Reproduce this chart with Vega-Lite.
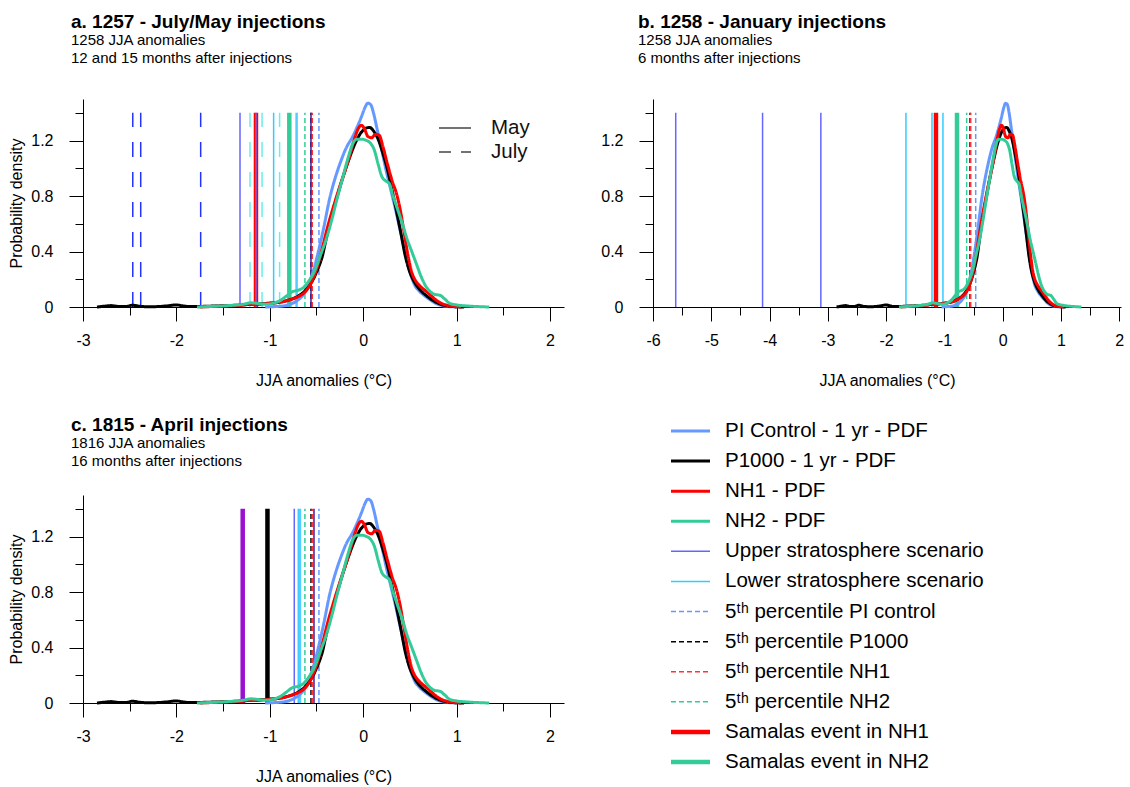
{
  "$schema": "https://vega.github.io/schema/vega-lite/v6.json",
  "background": "white",
  "padding": {"left": 8, "top": 13, "right": 5, "bottom": 5},
  "config": {
    "font": "Liberation Sans",
    "view": {"stroke": null},
    "axis": {"domainColor": "black", "tickColor": "black", "labelColor": "black", "titleColor": "black", "labelFontSize": 16, "titleFontSize": 16, "titleFontWeight": "normal", "grid": false, "labelFont": "Liberation Sans", "titleFont": "Liberation Sans"},
    "title": {"font": "Liberation Sans", "fontSize": 19, "fontWeight": "bold", "color": "black", "anchor": "start", "frame": "group", "subtitleFont": "Liberation Sans", "subtitleFontSize": 15, "subtitleColor": "black", "subtitleLineHeight": 18, "subtitlePadding": 1, "offset": 31}
  },
  "datasets": {
    "curves": [
      {"series": "PI Control - 1 yr - PDF", "t": -1.05, "d": 0}, {"series": "PI Control - 1 yr - PDF", "t": -0.95, "d": 0.003}, {"series": "PI Control - 1 yr - PDF", "t": -0.85, "d": 0.008}, {"series": "PI Control - 1 yr - PDF", "t": -0.78, "d": 0.02}, {"series": "PI Control - 1 yr - PDF", "t": -0.7, "d": 0.05}, {"series": "PI Control - 1 yr - PDF", "t": -0.64, "d": 0.09}, {"series": "PI Control - 1 yr - PDF", "t": -0.59, "d": 0.16}, {"series": "PI Control - 1 yr - PDF", "t": -0.53, "d": 0.27}, {"series": "PI Control - 1 yr - PDF", "t": -0.48, "d": 0.4}, {"series": "PI Control - 1 yr - PDF", "t": -0.42, "d": 0.58}, {"series": "PI Control - 1 yr - PDF", "t": -0.36, "d": 0.78}, {"series": "PI Control - 1 yr - PDF", "t": -0.3, "d": 0.93}, {"series": "PI Control - 1 yr - PDF", "t": -0.24, "d": 1.05}, {"series": "PI Control - 1 yr - PDF", "t": -0.18, "d": 1.15}, {"series": "PI Control - 1 yr - PDF", "t": -0.12, "d": 1.22}, {"series": "PI Control - 1 yr - PDF", "t": -0.07, "d": 1.29}, {"series": "PI Control - 1 yr - PDF", "t": -0.02, "d": 1.37}, {"series": "PI Control - 1 yr - PDF", "t": 0.02, "d": 1.44}, {"series": "PI Control - 1 yr - PDF", "t": 0.05, "d": 1.47}, {"series": "PI Control - 1 yr - PDF", "t": 0.08, "d": 1.46}, {"series": "PI Control - 1 yr - PDF", "t": 0.11, "d": 1.4}, {"series": "PI Control - 1 yr - PDF", "t": 0.15, "d": 1.28}, {"series": "PI Control - 1 yr - PDF", "t": 0.19, "d": 1.16}, {"series": "PI Control - 1 yr - PDF", "t": 0.24, "d": 1.0}, {"series": "PI Control - 1 yr - PDF", "t": 0.29, "d": 0.86}, {"series": "PI Control - 1 yr - PDF", "t": 0.34, "d": 0.72}, {"series": "PI Control - 1 yr - PDF", "t": 0.39, "d": 0.57}, {"series": "PI Control - 1 yr - PDF", "t": 0.43, "d": 0.45}, {"series": "PI Control - 1 yr - PDF", "t": 0.47, "d": 0.33}, {"series": "PI Control - 1 yr - PDF", "t": 0.51, "d": 0.23}, {"series": "PI Control - 1 yr - PDF", "t": 0.55, "d": 0.16}, {"series": "PI Control - 1 yr - PDF", "t": 0.6, "d": 0.115}, {"series": "PI Control - 1 yr - PDF", "t": 0.66, "d": 0.08}, {"series": "PI Control - 1 yr - PDF", "t": 0.72, "d": 0.05}, {"series": "PI Control - 1 yr - PDF", "t": 0.78, "d": 0.025}, {"series": "PI Control - 1 yr - PDF", "t": 0.85, "d": 0.01}, {"series": "PI Control - 1 yr - PDF", "t": 0.92, "d": 0.003}, {"series": "PI Control - 1 yr - PDF", "t": 1.0, "d": 0},
      {"series": "P1000 - 1 yr - PDF", "t": -2.85, "d": 0}, {"series": "P1000 - 1 yr - PDF", "t": -2.78, "d": 0.005}, {"series": "P1000 - 1 yr - PDF", "t": -2.7, "d": 0.01}, {"series": "P1000 - 1 yr - PDF", "t": -2.62, "d": 0.004}, {"series": "P1000 - 1 yr - PDF", "t": -2.54, "d": 0.004}, {"series": "P1000 - 1 yr - PDF", "t": -2.47, "d": 0.013}, {"series": "P1000 - 1 yr - PDF", "t": -2.4, "d": 0.006}, {"series": "P1000 - 1 yr - PDF", "t": -2.3, "d": 0.002}, {"series": "P1000 - 1 yr - PDF", "t": -2.2, "d": 0.003}, {"series": "P1000 - 1 yr - PDF", "t": -2.1, "d": 0.008}, {"series": "P1000 - 1 yr - PDF", "t": -2.0, "d": 0.015}, {"series": "P1000 - 1 yr - PDF", "t": -1.93, "d": 0.008}, {"series": "P1000 - 1 yr - PDF", "t": -1.85, "d": 0.003}, {"series": "P1000 - 1 yr - PDF", "t": -1.75, "d": 0.004}, {"series": "P1000 - 1 yr - PDF", "t": -1.6, "d": 0.007}, {"series": "P1000 - 1 yr - PDF", "t": -1.45, "d": 0.01}, {"series": "P1000 - 1 yr - PDF", "t": -1.3, "d": 0.015}, {"series": "P1000 - 1 yr - PDF", "t": -1.2, "d": 0.02}, {"series": "P1000 - 1 yr - PDF", "t": -1.1, "d": 0.024}, {"series": "P1000 - 1 yr - PDF", "t": -1.0, "d": 0.028}, {"series": "P1000 - 1 yr - PDF", "t": -0.9, "d": 0.034}, {"series": "P1000 - 1 yr - PDF", "t": -0.8, "d": 0.05}, {"series": "P1000 - 1 yr - PDF", "t": -0.72, "d": 0.07}, {"series": "P1000 - 1 yr - PDF", "t": -0.65, "d": 0.1}, {"series": "P1000 - 1 yr - PDF", "t": -0.58, "d": 0.15}, {"series": "P1000 - 1 yr - PDF", "t": -0.52, "d": 0.22}, {"series": "P1000 - 1 yr - PDF", "t": -0.47, "d": 0.3}, {"series": "P1000 - 1 yr - PDF", "t": -0.44, "d": 0.36}, {"series": "P1000 - 1 yr - PDF", "t": -0.4, "d": 0.48}, {"series": "P1000 - 1 yr - PDF", "t": -0.35, "d": 0.63}, {"series": "P1000 - 1 yr - PDF", "t": -0.29, "d": 0.77}, {"series": "P1000 - 1 yr - PDF", "t": -0.22, "d": 0.93}, {"series": "P1000 - 1 yr - PDF", "t": -0.15, "d": 1.07}, {"series": "P1000 - 1 yr - PDF", "t": -0.08, "d": 1.19}, {"series": "P1000 - 1 yr - PDF", "t": -0.02, "d": 1.26}, {"series": "P1000 - 1 yr - PDF", "t": 0.03, "d": 1.29}, {"series": "P1000 - 1 yr - PDF", "t": 0.07, "d": 1.295}, {"series": "P1000 - 1 yr - PDF", "t": 0.11, "d": 1.27}, {"series": "P1000 - 1 yr - PDF", "t": 0.16, "d": 1.21}, {"series": "P1000 - 1 yr - PDF", "t": 0.21, "d": 1.11}, {"series": "P1000 - 1 yr - PDF", "t": 0.26, "d": 0.99}, {"series": "P1000 - 1 yr - PDF", "t": 0.31, "d": 0.84}, {"series": "P1000 - 1 yr - PDF", "t": 0.36, "d": 0.68}, {"series": "P1000 - 1 yr - PDF", "t": 0.41, "d": 0.51}, {"series": "P1000 - 1 yr - PDF", "t": 0.45, "d": 0.37}, {"series": "P1000 - 1 yr - PDF", "t": 0.49, "d": 0.27}, {"series": "P1000 - 1 yr - PDF", "t": 0.54, "d": 0.19}, {"series": "P1000 - 1 yr - PDF", "t": 0.6, "d": 0.13}, {"series": "P1000 - 1 yr - PDF", "t": 0.67, "d": 0.085}, {"series": "P1000 - 1 yr - PDF", "t": 0.74, "d": 0.05}, {"series": "P1000 - 1 yr - PDF", "t": 0.82, "d": 0.022}, {"series": "P1000 - 1 yr - PDF", "t": 0.9, "d": 0.008}, {"series": "P1000 - 1 yr - PDF", "t": 1.0, "d": 0.002}, {"series": "P1000 - 1 yr - PDF", "t": 1.08, "d": 0},
      {"series": "NH1 - PDF", "t": -1.75, "d": 0}, {"series": "NH1 - PDF", "t": -1.6, "d": 0.004}, {"series": "NH1 - PDF", "t": -1.45, "d": 0.008}, {"series": "NH1 - PDF", "t": -1.3, "d": 0.012}, {"series": "NH1 - PDF", "t": -1.22, "d": 0.02}, {"series": "NH1 - PDF", "t": -1.15, "d": 0.018}, {"series": "NH1 - PDF", "t": -1.05, "d": 0.024}, {"series": "NH1 - PDF", "t": -0.95, "d": 0.03}, {"series": "NH1 - PDF", "t": -0.85, "d": 0.04}, {"series": "NH1 - PDF", "t": -0.75, "d": 0.06}, {"series": "NH1 - PDF", "t": -0.68, "d": 0.08}, {"series": "NH1 - PDF", "t": -0.62, "d": 0.11}, {"series": "NH1 - PDF", "t": -0.56, "d": 0.17}, {"series": "NH1 - PDF", "t": -0.5, "d": 0.27}, {"series": "NH1 - PDF", "t": -0.44, "d": 0.42}, {"series": "NH1 - PDF", "t": -0.38, "d": 0.58}, {"series": "NH1 - PDF", "t": -0.32, "d": 0.72}, {"series": "NH1 - PDF", "t": -0.26, "d": 0.85}, {"series": "NH1 - PDF", "t": -0.2, "d": 0.97}, {"series": "NH1 - PDF", "t": -0.14, "d": 1.1}, {"series": "NH1 - PDF", "t": -0.09, "d": 1.22}, {"series": "NH1 - PDF", "t": -0.05, "d": 1.29}, {"series": "NH1 - PDF", "t": -0.02, "d": 1.31}, {"series": "NH1 - PDF", "t": 0.01, "d": 1.29}, {"series": "NH1 - PDF", "t": 0.05, "d": 1.23}, {"series": "NH1 - PDF", "t": 0.09, "d": 1.22}, {"series": "NH1 - PDF", "t": 0.13, "d": 1.245}, {"series": "NH1 - PDF", "t": 0.17, "d": 1.24}, {"series": "NH1 - PDF", "t": 0.21, "d": 1.16}, {"series": "NH1 - PDF", "t": 0.26, "d": 1.03}, {"series": "NH1 - PDF", "t": 0.31, "d": 0.91}, {"series": "NH1 - PDF", "t": 0.36, "d": 0.81}, {"series": "NH1 - PDF", "t": 0.4, "d": 0.69}, {"series": "NH1 - PDF", "t": 0.44, "d": 0.53}, {"series": "NH1 - PDF", "t": 0.48, "d": 0.37}, {"series": "NH1 - PDF", "t": 0.52, "d": 0.25}, {"series": "NH1 - PDF", "t": 0.56, "d": 0.19}, {"series": "NH1 - PDF", "t": 0.61, "d": 0.15}, {"series": "NH1 - PDF", "t": 0.67, "d": 0.115}, {"series": "NH1 - PDF", "t": 0.73, "d": 0.08}, {"series": "NH1 - PDF", "t": 0.79, "d": 0.045}, {"series": "NH1 - PDF", "t": 0.85, "d": 0.022}, {"series": "NH1 - PDF", "t": 0.93, "d": 0.008}, {"series": "NH1 - PDF", "t": 1.05, "d": 0},
      {"series": "NH2 - PDF", "t": -1.78, "d": 0}, {"series": "NH2 - PDF", "t": -1.6, "d": 0.005}, {"series": "NH2 - PDF", "t": -1.45, "d": 0.01}, {"series": "NH2 - PDF", "t": -1.3, "d": 0.018}, {"series": "NH2 - PDF", "t": -1.2, "d": 0.03}, {"series": "NH2 - PDF", "t": -1.12, "d": 0.025}, {"series": "NH2 - PDF", "t": -1.02, "d": 0.02}, {"series": "NH2 - PDF", "t": -0.95, "d": 0.03}, {"series": "NH2 - PDF", "t": -0.88, "d": 0.05}, {"series": "NH2 - PDF", "t": -0.82, "d": 0.08}, {"series": "NH2 - PDF", "t": -0.76, "d": 0.11}, {"series": "NH2 - PDF", "t": -0.7, "d": 0.12}, {"series": "NH2 - PDF", "t": -0.64, "d": 0.14}, {"series": "NH2 - PDF", "t": -0.58, "d": 0.19}, {"series": "NH2 - PDF", "t": -0.52, "d": 0.26}, {"series": "NH2 - PDF", "t": -0.46, "d": 0.37}, {"series": "NH2 - PDF", "t": -0.4, "d": 0.48}, {"series": "NH2 - PDF", "t": -0.34, "d": 0.62}, {"series": "NH2 - PDF", "t": -0.28, "d": 0.78}, {"series": "NH2 - PDF", "t": -0.22, "d": 0.93}, {"series": "NH2 - PDF", "t": -0.16, "d": 1.08}, {"series": "NH2 - PDF", "t": -0.11, "d": 1.18}, {"series": "NH2 - PDF", "t": -0.07, "d": 1.21}, {"series": "NH2 - PDF", "t": -0.02, "d": 1.21}, {"series": "NH2 - PDF", "t": 0.04, "d": 1.2}, {"series": "NH2 - PDF", "t": 0.08, "d": 1.18}, {"series": "NH2 - PDF", "t": 0.12, "d": 1.13}, {"series": "NH2 - PDF", "t": 0.16, "d": 1.03}, {"series": "NH2 - PDF", "t": 0.2, "d": 0.94}, {"series": "NH2 - PDF", "t": 0.24, "d": 0.91}, {"series": "NH2 - PDF", "t": 0.28, "d": 0.89}, {"series": "NH2 - PDF", "t": 0.32, "d": 0.8}, {"series": "NH2 - PDF", "t": 0.37, "d": 0.7}, {"series": "NH2 - PDF", "t": 0.42, "d": 0.6}, {"series": "NH2 - PDF", "t": 0.47, "d": 0.49}, {"series": "NH2 - PDF", "t": 0.52, "d": 0.4}, {"series": "NH2 - PDF", "t": 0.57, "d": 0.31}, {"series": "NH2 - PDF", "t": 0.62, "d": 0.22}, {"series": "NH2 - PDF", "t": 0.67, "d": 0.15}, {"series": "NH2 - PDF", "t": 0.72, "d": 0.11}, {"series": "NH2 - PDF", "t": 0.77, "d": 0.09}, {"series": "NH2 - PDF", "t": 0.82, "d": 0.085}, {"series": "NH2 - PDF", "t": 0.87, "d": 0.06}, {"series": "NH2 - PDF", "t": 0.93, "d": 0.025}, {"series": "NH2 - PDF", "t": 1.0, "d": 0.015}, {"series": "NH2 - PDF", "t": 1.1, "d": 0.008}, {"series": "NH2 - PDF", "t": 1.2, "d": 0.004}, {"series": "NH2 - PDF", "t": 1.35, "d": 0}
    ],
    "vlines": [
      {"panel": "a", "series": "Samalas event in NH1", "x": -1.148},
      {"panel": "a", "series": "Samalas event in NH2", "x": -0.791},
      {"panel": "a", "series": "Upper stratosphere scenario, July", "x": -2.467},
      {"panel": "a", "series": "Upper stratosphere scenario, July", "x": -2.382},
      {"panel": "a", "series": "Upper stratosphere scenario, July", "x": -1.74},
      {"panel": "a", "series": "Upper stratosphere scenario", "x": -1.319},
      {"panel": "a", "series": "Upper stratosphere scenario", "x": -1.148},
      {"panel": "a", "series": "Lower stratosphere scenario, July", "x": -1.212},
      {"panel": "a", "series": "Lower stratosphere scenario, July", "x": -1.083},
      {"panel": "a", "series": "Lower stratosphere scenario, July", "x": -0.895},
      {"panel": "a", "series": "Lower stratosphere scenario", "x": -0.959},
      {"panel": "a", "series": "Lower stratosphere scenario, alt", "x": -0.713},
      {"panel": "a", "series": "5ᵗʰ percentile NH2", "x": -0.624},
      {"panel": "a", "series": "5ᵗʰ percentile P1000", "x": -0.559},
      {"panel": "a", "series": "Upper stratosphere scenario, alt", "x": -0.559},
      {"panel": "a", "series": "5ᵗʰ percentile NH1", "x": -0.545},
      {"panel": "a", "series": "5ᵗʰ percentile PI control", "x": -0.474},
      {"panel": "b", "series": "Samalas event in NH1", "x": -1.145},
      {"panel": "b", "series": "Samalas event in NH2", "x": -0.784},
      {"panel": "b", "series": "Upper stratosphere scenario", "x": -5.61},
      {"panel": "b", "series": "Upper stratosphere scenario", "x": -4.12},
      {"panel": "b", "series": "Upper stratosphere scenario", "x": -3.12},
      {"panel": "b", "series": "Lower stratosphere scenario", "x": -1.66},
      {"panel": "b", "series": "Lower stratosphere scenario", "x": -1.213},
      {"panel": "b", "series": "Lower stratosphere scenario", "x": -1.025},
      {"panel": "b", "series": "5ᵗʰ percentile NH2", "x": -0.618},
      {"panel": "b", "series": "5ᵗʰ percentile P1000", "x": -0.56},
      {"panel": "b", "series": "5ᵗʰ percentile NH1", "x": -0.549},
      {"panel": "b", "series": "5ᵗʰ percentile PI control", "x": -0.463},
      {"panel": "c", "series": "1815 event 1", "x": -1.29},
      {"panel": "c", "series": "1815 event 2", "x": -1.025},
      {"panel": "c", "series": "Upper stratosphere scenario", "x": -0.738},
      {"panel": "c", "series": "Lower stratosphere scenario", "x": -0.695},
      {"panel": "c", "series": "Lower stratosphere scenario, alt", "x": -0.677},
      {"panel": "c", "series": "5ᵗʰ percentile NH2", "x": -0.624},
      {"panel": "c", "series": "5ᵗʰ percentile P1000", "x": -0.559},
      {"panel": "c", "series": "5ᵗʰ percentile NH1", "x": -0.545},
      {"panel": "c", "series": "Upper stratosphere scenario, alt", "x": -0.527},
      {"panel": "c", "series": "5ᵗʰ percentile PI control", "x": -0.474}
    ],
    "months": [{"month": "May"}, {"month": "July"}],
    "legenditems": [
      {"series": "PI Control - 1 yr - PDF"}, {"series": "P1000 - 1 yr - PDF"}, {"series": "NH1 - PDF"}, {"series": "NH2 - PDF"}, {"series": "Upper stratosphere scenario"}, {"series": "Lower stratosphere scenario"}, {"series": "5ᵗʰ percentile PI control"}, {"series": "5ᵗʰ percentile P1000"}, {"series": "5ᵗʰ percentile NH1"}, {"series": "5ᵗʰ percentile NH2"}, {"series": "Samalas event in NH1"}, {"series": "Samalas event in NH2"}
    ]
  },
  "columns": 2,
  "bounds": "flush",
  "spacing": {"row": 188, "column": 89},
  "concat": [
    {
      "width": 481, "height": 208,
      "title": {"text": "a. 1257 - July/May injections", "subtitle": ["1258 JJA anomalies", "12 and 15 months after injections"], "dx": -12},
      "resolve": {"scale": {"x": "independent", "y": "independent"}, "axis": {"x": "independent", "y": "independent"}},
      "layer": [
        {
          "data": {"name": "vlines"},
          "transform": [{"filter": "datum.panel == 'a'"}],
          "mark": {"type": "rule"},
          "encoding": {
            "x": {"field": "x", "type": "quantitative", "scale": {"domain": [-3, 2.15], "nice": false, "zero": false}, "axis": {"orient": "bottom", "values": [-2.5, -1.5, -0.5, 0.5, 1.5], "labels": false, "domain": false, "tickSize": 8, "title": null}},
            "y": {"datum": 0, "type": "quantitative", "scale": {"domain": [0, 1.5], "nice": false, "zero": false}, "axis": {"orient": "left", "values": [0.2, 0.6, 1.0, 1.4], "labels": false, "domain": false, "tickSize": 8, "title": null}},
            "y2": {"datum": 1.4},
            "color": {"field": "series", "type": "nominal", "legend": null, "scale": {"domain": ["PI Control - 1 yr - PDF", "P1000 - 1 yr - PDF", "NH1 - PDF", "NH2 - PDF", "Upper stratosphere scenario", "Lower stratosphere scenario", "5ᵗʰ percentile PI control", "5ᵗʰ percentile P1000", "5ᵗʰ percentile NH1", "5ᵗʰ percentile NH2", "Samalas event in NH1", "Samalas event in NH2", "Upper stratosphere scenario, July", "Lower stratosphere scenario, July", "Lower stratosphere scenario, alt", "Upper stratosphere scenario, alt", "1815 event 1", "1815 event 2"], "range": ["#6699FF", "#000000", "#FF0000", "#33CC99", "#6666FF", "#33CCFF", "#6699FF", "#000000", "#FF3333", "#33CC99", "#FF0000", "#33CC99", "#2233FF", "#66EEEE", "#55CCFF", "#3A1F9E", "#9B10CF", "#000000"]}},
            "strokeDash": {"field": "series", "type": "nominal", "legend": null, "scale": {"domain": ["PI Control - 1 yr - PDF", "P1000 - 1 yr - PDF", "NH1 - PDF", "NH2 - PDF", "Upper stratosphere scenario", "Lower stratosphere scenario", "5ᵗʰ percentile PI control", "5ᵗʰ percentile P1000", "5ᵗʰ percentile NH1", "5ᵗʰ percentile NH2", "Samalas event in NH1", "Samalas event in NH2", "Upper stratosphere scenario, July", "Lower stratosphere scenario, July", "Lower stratosphere scenario, alt", "Upper stratosphere scenario, alt", "1815 event 1", "1815 event 2"], "range": [[1, 0], [1, 0], [1, 0], [1, 0], [1, 0], [1, 0], [5, 3], [5, 3], [5, 3], [5, 3], [1, 0], [1, 0], [15, 15], [15, 15], [1, 0], [1, 0], [1, 0], [1, 0]]}},
            "strokeWidth": {"field": "series", "type": "nominal", "legend": null, "scale": {"type": "ordinal", "domain": ["PI Control - 1 yr - PDF", "P1000 - 1 yr - PDF", "NH1 - PDF", "NH2 - PDF", "Upper stratosphere scenario", "Lower stratosphere scenario", "5ᵗʰ percentile PI control", "5ᵗʰ percentile P1000", "5ᵗʰ percentile NH1", "5ᵗʰ percentile NH2", "Samalas event in NH1", "Samalas event in NH2", "Upper stratosphere scenario, July", "Lower stratosphere scenario, July", "Lower stratosphere scenario, alt", "Upper stratosphere scenario, alt", "1815 event 1", "1815 event 2"], "range": [3, 3, 3, 3, 1.5, 1.5, 1.5, 1.5, 1.5, 1.5, 4.5, 4.5, 1.5, 1.5, 2.5, 1.5, 4.5, 4.5]}}
          }
        },
        {
          "data": {"name": "curves"},
          "mark": {"type": "line", "interpolate": "monotone"},
          "encoding": {
            "x": {"field": "t", "type": "quantitative", "scale": {"domain": [-3, 2.15], "nice": false, "zero": false}, "axis": {"orient": "bottom", "values": [-3, -2, -1, 0, 1, 2], "labelExpr": "'' + datum.value", "tickSize": 14, "labelPadding": 11, "title": "JJA anomalies (°C)", "titlePadding": 24, "labelFlush": false}},
            "y": {"field": "d", "type": "quantitative", "scale": {"domain": [0, 1.5], "nice": false, "zero": false}, "axis": {"orient": "left", "values": [0, 0.4, 0.8, 1.2], "labelExpr": "'' + datum.value", "tickSize": 14, "labelPadding": 16, "title": "Probability density", "titlePadding": 6}},
            "color": {"field": "series", "type": "nominal", "legend": null, "scale": {"domain": ["PI Control - 1 yr - PDF", "P1000 - 1 yr - PDF", "NH1 - PDF", "NH2 - PDF", "Upper stratosphere scenario", "Lower stratosphere scenario", "5ᵗʰ percentile PI control", "5ᵗʰ percentile P1000", "5ᵗʰ percentile NH1", "5ᵗʰ percentile NH2", "Samalas event in NH1", "Samalas event in NH2", "Upper stratosphere scenario, July", "Lower stratosphere scenario, July", "Lower stratosphere scenario, alt", "Upper stratosphere scenario, alt", "1815 event 1", "1815 event 2"], "range": ["#6699FF", "#000000", "#FF0000", "#33CC99", "#6666FF", "#33CCFF", "#6699FF", "#000000", "#FF3333", "#33CC99", "#FF0000", "#33CC99", "#2233FF", "#66EEEE", "#55CCFF", "#3A1F9E", "#9B10CF", "#000000"]}},
            "strokeDash": {"field": "series", "type": "nominal", "legend": null, "scale": {"domain": ["PI Control - 1 yr - PDF", "P1000 - 1 yr - PDF", "NH1 - PDF", "NH2 - PDF", "Upper stratosphere scenario", "Lower stratosphere scenario", "5ᵗʰ percentile PI control", "5ᵗʰ percentile P1000", "5ᵗʰ percentile NH1", "5ᵗʰ percentile NH2", "Samalas event in NH1", "Samalas event in NH2", "Upper stratosphere scenario, July", "Lower stratosphere scenario, July", "Lower stratosphere scenario, alt", "Upper stratosphere scenario, alt", "1815 event 1", "1815 event 2"], "range": [[1, 0], [1, 0], [1, 0], [1, 0], [1, 0], [1, 0], [5, 3], [5, 3], [5, 3], [5, 3], [1, 0], [1, 0], [15, 15], [15, 15], [1, 0], [1, 0], [1, 0], [1, 0]]}},
            "strokeWidth": {"field": "series", "type": "nominal", "legend": null, "scale": {"type": "ordinal", "domain": ["PI Control - 1 yr - PDF", "P1000 - 1 yr - PDF", "NH1 - PDF", "NH2 - PDF", "Upper stratosphere scenario", "Lower stratosphere scenario", "5ᵗʰ percentile PI control", "5ᵗʰ percentile P1000", "5ᵗʰ percentile NH1", "5ᵗʰ percentile NH2", "Samalas event in NH1", "Samalas event in NH2", "Upper stratosphere scenario, July", "Lower stratosphere scenario, July", "Lower stratosphere scenario, alt", "Upper stratosphere scenario, alt", "1815 event 1", "1815 event 2"], "range": [3, 3, 3, 3, 1.5, 1.5, 1.5, 1.5, 1.5, 1.5, 4.5, 4.5, 1.5, 1.5, 2.5, 1.5, 4.5, 4.5]}}
          }
        },
        {
          "data": {"name": "months"},
          "transform": [{"filter": "datum.month == 'May'"}],
          "mark": {"type": "rule", "color": "#444444", "strokeWidth": 1.5},
          "encoding": {
            "x": {"datum": 0, "type": "quantitative", "scale": {"domain": [0, 1], "range": [356, 388]}, "axis": null},
            "x2": {"datum": 1},
            "y": {"field": "month", "type": "nominal", "scale": {"type": "point", "domain": ["May", "July"], "range": [29, 53], "padding": 0}, "axis": null}
          }
        },
        {
          "data": {"name": "months"},
          "transform": [{"filter": "datum.month == 'July'"}],
          "mark": {"type": "rule", "color": "#444444", "strokeWidth": 1.5, "strokeDash": [12, 10]},
          "encoding": {
            "x": {"datum": 0, "type": "quantitative", "scale": {"domain": [0, 1], "range": [356, 388]}, "axis": null},
            "x2": {"datum": 1},
            "y": {"field": "month", "type": "nominal", "scale": {"type": "point", "domain": ["May", "July"], "range": [29, 53], "padding": 0}, "axis": null}
          }
        },
        {
          "data": {"name": "months"},
          "mark": {"type": "text", "align": "left", "baseline": "middle", "dx": 20, "fontSize": 20.5, "color": "#111111", "font": "Liberation Sans"},
          "encoding": {
            "x": {"datum": 1, "type": "quantitative", "scale": {"domain": [0, 1], "range": [356, 388]}, "axis": null},
            "y": {"field": "month", "type": "nominal", "scale": {"type": "point", "domain": ["May", "July"], "range": [29, 53], "padding": 0}, "axis": null},
            "text": {"field": "month"}
          }
        }
      ]
    },
    {
      "width": 468, "height": 208,
      "title": {"text": "b. 1258 - January injections", "subtitle": ["1258 JJA anomalies", "6 months after injections"], "dx": -15},
      "resolve": {"scale": {"x": "independent", "y": "independent"}, "axis": {"x": "independent", "y": "independent"}},
      "layer": [
        {
          "data": {"name": "vlines"},
          "transform": [{"filter": "datum.panel == 'b'"}],
          "mark": {"type": "rule"},
          "encoding": {
            "x": {"field": "x", "type": "quantitative", "scale": {"domain": [-6, 2.03], "nice": false, "zero": false}, "axis": {"orient": "bottom", "values": [-5.5, -4.5, -3.5, -2.5, -1.5, -0.5, 0.5, 1.5], "labels": false, "domain": false, "tickSize": 8, "title": null}},
            "y": {"datum": 0, "type": "quantitative", "scale": {"domain": [0, 1.5], "nice": false, "zero": false}, "axis": {"orient": "left", "values": [0.2, 0.6, 1.0, 1.4], "labels": false, "domain": false, "tickSize": 8, "title": null}},
            "y2": {"datum": 1.4},
            "color": {"field": "series", "type": "nominal", "legend": null, "scale": {"domain": ["PI Control - 1 yr - PDF", "P1000 - 1 yr - PDF", "NH1 - PDF", "NH2 - PDF", "Upper stratosphere scenario", "Lower stratosphere scenario", "5ᵗʰ percentile PI control", "5ᵗʰ percentile P1000", "5ᵗʰ percentile NH1", "5ᵗʰ percentile NH2", "Samalas event in NH1", "Samalas event in NH2", "Upper stratosphere scenario, July", "Lower stratosphere scenario, July", "Lower stratosphere scenario, alt", "Upper stratosphere scenario, alt", "1815 event 1", "1815 event 2"], "range": ["#6699FF", "#000000", "#FF0000", "#33CC99", "#6666FF", "#33CCFF", "#6699FF", "#000000", "#FF3333", "#33CC99", "#FF0000", "#33CC99", "#2233FF", "#66EEEE", "#55CCFF", "#3A1F9E", "#9B10CF", "#000000"]}},
            "strokeDash": {"field": "series", "type": "nominal", "legend": null, "scale": {"domain": ["PI Control - 1 yr - PDF", "P1000 - 1 yr - PDF", "NH1 - PDF", "NH2 - PDF", "Upper stratosphere scenario", "Lower stratosphere scenario", "5ᵗʰ percentile PI control", "5ᵗʰ percentile P1000", "5ᵗʰ percentile NH1", "5ᵗʰ percentile NH2", "Samalas event in NH1", "Samalas event in NH2", "Upper stratosphere scenario, July", "Lower stratosphere scenario, July", "Lower stratosphere scenario, alt", "Upper stratosphere scenario, alt", "1815 event 1", "1815 event 2"], "range": [[1, 0], [1, 0], [1, 0], [1, 0], [1, 0], [1, 0], [5, 3], [5, 3], [5, 3], [5, 3], [1, 0], [1, 0], [15, 15], [15, 15], [1, 0], [1, 0], [1, 0], [1, 0]]}},
            "strokeWidth": {"field": "series", "type": "nominal", "legend": null, "scale": {"type": "ordinal", "domain": ["PI Control - 1 yr - PDF", "P1000 - 1 yr - PDF", "NH1 - PDF", "NH2 - PDF", "Upper stratosphere scenario", "Lower stratosphere scenario", "5ᵗʰ percentile PI control", "5ᵗʰ percentile P1000", "5ᵗʰ percentile NH1", "5ᵗʰ percentile NH2", "Samalas event in NH1", "Samalas event in NH2", "Upper stratosphere scenario, July", "Lower stratosphere scenario, July", "Lower stratosphere scenario, alt", "Upper stratosphere scenario, alt", "1815 event 1", "1815 event 2"], "range": [3, 3, 3, 3, 1.5, 1.5, 1.5, 1.5, 1.5, 1.5, 4.5, 4.5, 1.5, 1.5, 2.5, 1.5, 4.5, 4.5]}}
          }
        },
        {
          "data": {"name": "curves"},
          "mark": {"type": "line", "interpolate": "monotone"},
          "encoding": {
            "x": {"field": "t", "type": "quantitative", "scale": {"domain": [-6, 2.03], "nice": false, "zero": false}, "axis": {"orient": "bottom", "values": [-6, -5, -4, -3, -2, -1, 0, 1, 2], "labelExpr": "'' + datum.value", "tickSize": 14, "labelPadding": 11, "title": "JJA anomalies (°C)", "titlePadding": 24, "labelFlush": false}},
            "y": {"field": "d", "type": "quantitative", "scale": {"domain": [0, 1.5], "nice": false, "zero": false}, "axis": {"orient": "left", "values": [0, 0.4, 0.8, 1.2], "labelExpr": "'' + datum.value", "tickSize": 14, "labelPadding": 16, "title": null}},
            "color": {"field": "series", "type": "nominal", "legend": null, "scale": {"domain": ["PI Control - 1 yr - PDF", "P1000 - 1 yr - PDF", "NH1 - PDF", "NH2 - PDF", "Upper stratosphere scenario", "Lower stratosphere scenario", "5ᵗʰ percentile PI control", "5ᵗʰ percentile P1000", "5ᵗʰ percentile NH1", "5ᵗʰ percentile NH2", "Samalas event in NH1", "Samalas event in NH2", "Upper stratosphere scenario, July", "Lower stratosphere scenario, July", "Lower stratosphere scenario, alt", "Upper stratosphere scenario, alt", "1815 event 1", "1815 event 2"], "range": ["#6699FF", "#000000", "#FF0000", "#33CC99", "#6666FF", "#33CCFF", "#6699FF", "#000000", "#FF3333", "#33CC99", "#FF0000", "#33CC99", "#2233FF", "#66EEEE", "#55CCFF", "#3A1F9E", "#9B10CF", "#000000"]}},
            "strokeDash": {"field": "series", "type": "nominal", "legend": null, "scale": {"domain": ["PI Control - 1 yr - PDF", "P1000 - 1 yr - PDF", "NH1 - PDF", "NH2 - PDF", "Upper stratosphere scenario", "Lower stratosphere scenario", "5ᵗʰ percentile PI control", "5ᵗʰ percentile P1000", "5ᵗʰ percentile NH1", "5ᵗʰ percentile NH2", "Samalas event in NH1", "Samalas event in NH2", "Upper stratosphere scenario, July", "Lower stratosphere scenario, July", "Lower stratosphere scenario, alt", "Upper stratosphere scenario, alt", "1815 event 1", "1815 event 2"], "range": [[1, 0], [1, 0], [1, 0], [1, 0], [1, 0], [1, 0], [5, 3], [5, 3], [5, 3], [5, 3], [1, 0], [1, 0], [15, 15], [15, 15], [1, 0], [1, 0], [1, 0], [1, 0]]}},
            "strokeWidth": {"field": "series", "type": "nominal", "legend": null, "scale": {"type": "ordinal", "domain": ["PI Control - 1 yr - PDF", "P1000 - 1 yr - PDF", "NH1 - PDF", "NH2 - PDF", "Upper stratosphere scenario", "Lower stratosphere scenario", "5ᵗʰ percentile PI control", "5ᵗʰ percentile P1000", "5ᵗʰ percentile NH1", "5ᵗʰ percentile NH2", "Samalas event in NH1", "Samalas event in NH2", "Upper stratosphere scenario, July", "Lower stratosphere scenario, July", "Lower stratosphere scenario, alt", "Upper stratosphere scenario, alt", "1815 event 1", "1815 event 2"], "range": [3, 3, 3, 3, 1.5, 1.5, 1.5, 1.5, 1.5, 1.5, 4.5, 4.5, 1.5, 1.5, 2.5, 1.5, 4.5, 4.5]}}
          }
        },
        {
          "data": {"name": "legenditems"},
          "mark": {"type": "rule"},
          "encoding": {
            "x": {"datum": 0, "type": "quantitative", "scale": {"domain": [0, 1], "range": [18, 57]}, "axis": null},
            "x2": {"datum": 1},
            "y": {"field": "series", "type": "nominal", "sort": null, "scale": {"type": "point", "domain": ["PI Control - 1 yr - PDF", "P1000 - 1 yr - PDF", "NH1 - PDF", "NH2 - PDF", "Upper stratosphere scenario", "Lower stratosphere scenario", "5ᵗʰ percentile PI control", "5ᵗʰ percentile P1000", "5ᵗʰ percentile NH1", "5ᵗʰ percentile NH2", "Samalas event in NH1", "Samalas event in NH2"], "range": [332, 663], "padding": 0}, "axis": null},
            "color": {"field": "series", "type": "nominal", "legend": null, "scale": {"domain": ["PI Control - 1 yr - PDF", "P1000 - 1 yr - PDF", "NH1 - PDF", "NH2 - PDF", "Upper stratosphere scenario", "Lower stratosphere scenario", "5ᵗʰ percentile PI control", "5ᵗʰ percentile P1000", "5ᵗʰ percentile NH1", "5ᵗʰ percentile NH2", "Samalas event in NH1", "Samalas event in NH2", "Upper stratosphere scenario, July", "Lower stratosphere scenario, July", "Lower stratosphere scenario, alt", "Upper stratosphere scenario, alt", "1815 event 1", "1815 event 2"], "range": ["#6699FF", "#000000", "#FF0000", "#33CC99", "#6666FF", "#33CCFF", "#6699FF", "#000000", "#FF3333", "#33CC99", "#FF0000", "#33CC99", "#2233FF", "#66EEEE", "#55CCFF", "#3A1F9E", "#9B10CF", "#000000"]}},
            "strokeDash": {"field": "series", "type": "nominal", "legend": null, "scale": {"domain": ["PI Control - 1 yr - PDF", "P1000 - 1 yr - PDF", "NH1 - PDF", "NH2 - PDF", "Upper stratosphere scenario", "Lower stratosphere scenario", "5ᵗʰ percentile PI control", "5ᵗʰ percentile P1000", "5ᵗʰ percentile NH1", "5ᵗʰ percentile NH2", "Samalas event in NH1", "Samalas event in NH2", "Upper stratosphere scenario, July", "Lower stratosphere scenario, July", "Lower stratosphere scenario, alt", "Upper stratosphere scenario, alt", "1815 event 1", "1815 event 2"], "range": [[1, 0], [1, 0], [1, 0], [1, 0], [1, 0], [1, 0], [5, 3], [5, 3], [5, 3], [5, 3], [1, 0], [1, 0], [15, 15], [15, 15], [1, 0], [1, 0], [1, 0], [1, 0]]}},
            "strokeWidth": {"field": "series", "type": "nominal", "legend": null, "scale": {"type": "ordinal", "domain": ["PI Control - 1 yr - PDF", "P1000 - 1 yr - PDF", "NH1 - PDF", "NH2 - PDF", "Upper stratosphere scenario", "Lower stratosphere scenario", "5ᵗʰ percentile PI control", "5ᵗʰ percentile P1000", "5ᵗʰ percentile NH1", "5ᵗʰ percentile NH2", "Samalas event in NH1", "Samalas event in NH2", "Upper stratosphere scenario, July", "Lower stratosphere scenario, July", "Lower stratosphere scenario, alt", "Upper stratosphere scenario, alt", "1815 event 1", "1815 event 2"], "range": [3, 3, 3, 3, 1.5, 1.5, 1.5, 1.5, 1.5, 1.5, 4.5, 4.5, 1.5, 1.5, 2.5, 1.5, 4.5, 4.5]}}
          }
        },
        {
          "data": {"name": "legenditems"},
          "mark": {"type": "text", "align": "left", "baseline": "middle", "dx": 15, "fontSize": 20.5, "color": "black", "font": "Liberation Sans"},
          "encoding": {
            "x": {"datum": 1, "type": "quantitative", "scale": {"domain": [0, 1], "range": [18, 57]}, "axis": null},
            "y": {"field": "series", "type": "nominal", "sort": null, "scale": {"type": "point", "domain": ["PI Control - 1 yr - PDF", "P1000 - 1 yr - PDF", "NH1 - PDF", "NH2 - PDF", "Upper stratosphere scenario", "Lower stratosphere scenario", "5ᵗʰ percentile PI control", "5ᵗʰ percentile P1000", "5ᵗʰ percentile NH1", "5ᵗʰ percentile NH2", "Samalas event in NH1", "Samalas event in NH2"], "range": [332, 663], "padding": 0}, "axis": null},
            "text": {"field": "series"}
          }
        }
      ]
    },
    {
      "width": 481, "height": 208,
      "title": {"text": "c. 1815 - April injections", "subtitle": ["1816 JJA anomalies", "16 months after injections"], "dx": -12, "offset": 24},
      "resolve": {"axis": {"x": "independent", "y": "independent"}},
      "layer": [
        {
          "data": {"name": "vlines"},
          "transform": [{"filter": "datum.panel == 'c'"}],
          "mark": {"type": "rule"},
          "encoding": {
            "x": {"field": "x", "type": "quantitative", "scale": {"domain": [-3, 2.15], "nice": false, "zero": false}, "axis": {"orient": "bottom", "values": [-2.5, -1.5, -0.5, 0.5, 1.5], "labels": false, "domain": false, "tickSize": 8, "title": null}},
            "y": {"datum": 0, "type": "quantitative", "scale": {"domain": [0, 1.5], "nice": false, "zero": false}, "axis": {"orient": "left", "values": [0.2, 0.6, 1.0, 1.4], "labels": false, "domain": false, "tickSize": 8, "title": null}},
            "y2": {"datum": 1.4},
            "color": {"field": "series", "type": "nominal", "legend": null, "scale": {"domain": ["PI Control - 1 yr - PDF", "P1000 - 1 yr - PDF", "NH1 - PDF", "NH2 - PDF", "Upper stratosphere scenario", "Lower stratosphere scenario", "5ᵗʰ percentile PI control", "5ᵗʰ percentile P1000", "5ᵗʰ percentile NH1", "5ᵗʰ percentile NH2", "Samalas event in NH1", "Samalas event in NH2", "Upper stratosphere scenario, July", "Lower stratosphere scenario, July", "Lower stratosphere scenario, alt", "Upper stratosphere scenario, alt", "1815 event 1", "1815 event 2"], "range": ["#6699FF", "#000000", "#FF0000", "#33CC99", "#6666FF", "#33CCFF", "#6699FF", "#000000", "#FF3333", "#33CC99", "#FF0000", "#33CC99", "#2233FF", "#66EEEE", "#55CCFF", "#3A1F9E", "#9B10CF", "#000000"]}},
            "strokeDash": {"field": "series", "type": "nominal", "legend": null, "scale": {"domain": ["PI Control - 1 yr - PDF", "P1000 - 1 yr - PDF", "NH1 - PDF", "NH2 - PDF", "Upper stratosphere scenario", "Lower stratosphere scenario", "5ᵗʰ percentile PI control", "5ᵗʰ percentile P1000", "5ᵗʰ percentile NH1", "5ᵗʰ percentile NH2", "Samalas event in NH1", "Samalas event in NH2", "Upper stratosphere scenario, July", "Lower stratosphere scenario, July", "Lower stratosphere scenario, alt", "Upper stratosphere scenario, alt", "1815 event 1", "1815 event 2"], "range": [[1, 0], [1, 0], [1, 0], [1, 0], [1, 0], [1, 0], [5, 3], [5, 3], [5, 3], [5, 3], [1, 0], [1, 0], [15, 15], [15, 15], [1, 0], [1, 0], [1, 0], [1, 0]]}},
            "strokeWidth": {"field": "series", "type": "nominal", "legend": null, "scale": {"type": "ordinal", "domain": ["PI Control - 1 yr - PDF", "P1000 - 1 yr - PDF", "NH1 - PDF", "NH2 - PDF", "Upper stratosphere scenario", "Lower stratosphere scenario", "5ᵗʰ percentile PI control", "5ᵗʰ percentile P1000", "5ᵗʰ percentile NH1", "5ᵗʰ percentile NH2", "Samalas event in NH1", "Samalas event in NH2", "Upper stratosphere scenario, July", "Lower stratosphere scenario, July", "Lower stratosphere scenario, alt", "Upper stratosphere scenario, alt", "1815 event 1", "1815 event 2"], "range": [3, 3, 3, 3, 1.5, 1.5, 1.5, 1.5, 1.5, 1.5, 4.5, 4.5, 1.5, 1.5, 2.5, 1.5, 4.5, 4.5]}}
          }
        },
        {
          "data": {"name": "curves"},
          "mark": {"type": "line", "interpolate": "monotone"},
          "encoding": {
            "x": {"field": "t", "type": "quantitative", "scale": {"domain": [-3, 2.15], "nice": false, "zero": false}, "axis": {"orient": "bottom", "values": [-3, -2, -1, 0, 1, 2], "labelExpr": "'' + datum.value", "tickSize": 14, "labelPadding": 11, "title": "JJA anomalies (°C)", "titlePadding": 24, "labelFlush": false}},
            "y": {"field": "d", "type": "quantitative", "scale": {"domain": [0, 1.5], "nice": false, "zero": false}, "axis": {"orient": "left", "values": [0, 0.4, 0.8, 1.2], "labelExpr": "'' + datum.value", "tickSize": 14, "labelPadding": 16, "title": "Probability density", "titlePadding": 6}},
            "color": {"field": "series", "type": "nominal", "legend": null, "scale": {"domain": ["PI Control - 1 yr - PDF", "P1000 - 1 yr - PDF", "NH1 - PDF", "NH2 - PDF", "Upper stratosphere scenario", "Lower stratosphere scenario", "5ᵗʰ percentile PI control", "5ᵗʰ percentile P1000", "5ᵗʰ percentile NH1", "5ᵗʰ percentile NH2", "Samalas event in NH1", "Samalas event in NH2", "Upper stratosphere scenario, July", "Lower stratosphere scenario, July", "Lower stratosphere scenario, alt", "Upper stratosphere scenario, alt", "1815 event 1", "1815 event 2"], "range": ["#6699FF", "#000000", "#FF0000", "#33CC99", "#6666FF", "#33CCFF", "#6699FF", "#000000", "#FF3333", "#33CC99", "#FF0000", "#33CC99", "#2233FF", "#66EEEE", "#55CCFF", "#3A1F9E", "#9B10CF", "#000000"]}},
            "strokeDash": {"field": "series", "type": "nominal", "legend": null, "scale": {"domain": ["PI Control - 1 yr - PDF", "P1000 - 1 yr - PDF", "NH1 - PDF", "NH2 - PDF", "Upper stratosphere scenario", "Lower stratosphere scenario", "5ᵗʰ percentile PI control", "5ᵗʰ percentile P1000", "5ᵗʰ percentile NH1", "5ᵗʰ percentile NH2", "Samalas event in NH1", "Samalas event in NH2", "Upper stratosphere scenario, July", "Lower stratosphere scenario, July", "Lower stratosphere scenario, alt", "Upper stratosphere scenario, alt", "1815 event 1", "1815 event 2"], "range": [[1, 0], [1, 0], [1, 0], [1, 0], [1, 0], [1, 0], [5, 3], [5, 3], [5, 3], [5, 3], [1, 0], [1, 0], [15, 15], [15, 15], [1, 0], [1, 0], [1, 0], [1, 0]]}},
            "strokeWidth": {"field": "series", "type": "nominal", "legend": null, "scale": {"type": "ordinal", "domain": ["PI Control - 1 yr - PDF", "P1000 - 1 yr - PDF", "NH1 - PDF", "NH2 - PDF", "Upper stratosphere scenario", "Lower stratosphere scenario", "5ᵗʰ percentile PI control", "5ᵗʰ percentile P1000", "5ᵗʰ percentile NH1", "5ᵗʰ percentile NH2", "Samalas event in NH1", "Samalas event in NH2", "Upper stratosphere scenario, July", "Lower stratosphere scenario, July", "Lower stratosphere scenario, alt", "Upper stratosphere scenario, alt", "1815 event 1", "1815 event 2"], "range": [3, 3, 3, 3, 1.5, 1.5, 1.5, 1.5, 1.5, 1.5, 4.5, 4.5, 1.5, 1.5, 2.5, 1.5, 4.5, 4.5]}}
          }
        }
      ]
    }
  ]
}
